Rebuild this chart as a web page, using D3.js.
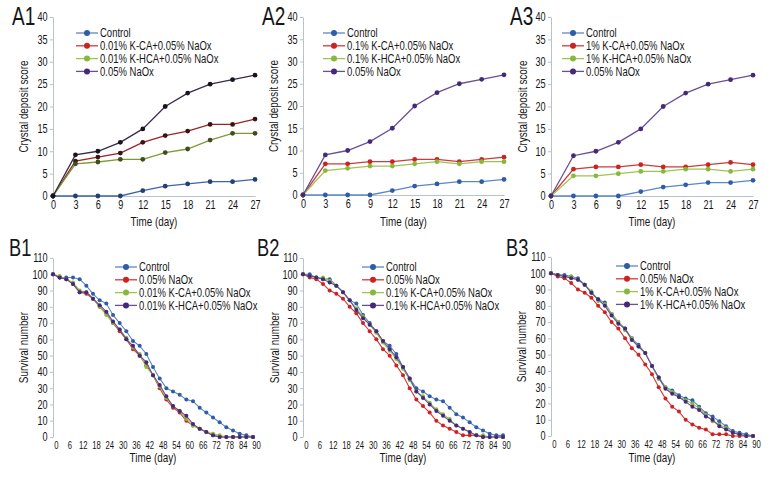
<!DOCTYPE html>
<html>
<head>
<meta charset="utf-8">
<script src="https://cdn.jsdelivr.net/npm/d3@7"></script>
<style>
  body { margin: 0; background: #fff; }
  svg text { font-family: "Liberation Sans", Arial, sans-serif; fill: #161616; }
  .axis path, .axis line { stroke: #b8c2cc; }
</style>
</head>
<body>
<svg id="chart" width="780" height="480"></svg>
<script>
// ---- data ----
const daysA = [0, 3, 6, 9, 12, 15, 18, 21, 24, 27]
const daysB = [0, 3, 6, 9, 12, 15, 18, 21, 24, 27, 30, 33, 36, 39, 42, 45,
  48, 51, 54, 57, 60, 63, 66, 69, 72, 75, 78, 81, 84, 87, 90]
const ticksA = [0, 3, 6, 9, 12, 15, 18, 21, 24, 27]
const ticksB = [0, 6, 12, 18, 24, 30, 36, 42, 48, 54, 60, 66, 72, 78, 84, 90]
const yTicksA = [0, 5, 10, 15, 20, 25, 30, 35, 40]
const yTicksB = [0, 10, 20, 30, 40, 50, 60, 70, 80, 90, 100, 110]

// crystal deposit score
const a1Control = [0, 0, 0, 0, 1.2, 2.2, 2.7, 3.2, 3.2, 3.7]
const a1KCA = [0, 7.8, 8.7, 9.6, 12, 13.5, 14.5, 16, 16, 17.2]
const a1KHCA = [0, 7.2, 7.6, 8.2, 8.2, 9.7, 10.5, 12.5, 14, 14]
const a1NaOx = [0, 9.2, 10, 12, 15, 20, 23, 25, 26, 27]

const a2Control = [0, 0, 0, 0, 1, 2, 2.5, 3, 3, 3.5]
const a2KCA = [0, 7, 7, 7.5, 7.5, 8, 8, 7.5, 8, 8.5]
const a2KHCA = [0, 5.5, 6, 6.5, 6.5, 7, 7.5, 7, 7.5, 7.5]
const a2NaOx = [0, 9, 10, 12, 15, 20, 23, 25, 26, 27]

const a3Control = [0, 0, 0, 0, 1, 2, 2.5, 3, 3, 3.5]
const a3KCA = [0, 6, 6.5, 6.5, 7, 6.5, 6.5, 7, 7.5, 7]
const a3KHCA = [0, 4.5, 4.5, 5, 5.5, 5.5, 6, 6, 5.5, 6]
const a3NaOx = [0, 9, 10, 12, 15, 20, 23, 25, 26, 27]

// survival number
const b1Control = [100, 98, 98, 98, 97, 93, 88, 84, 82, 75, 70, 65, 59, 56, 51, 43, 36, 30, 28, 26, 23, 22, 18, 15, 12, 9, 6, 4, 2, 1, 0]
const b1NaOx = [100, 98, 97, 94, 89, 88, 85, 80, 76, 70, 65, 60, 54, 50, 44, 38, 30, 23, 18, 15, 10, 7, 5, 3, 1, 0, 0, 0, 0, 0, 0]
const b1KCA = [100, 99, 97, 95, 90, 89, 85, 80, 75, 70, 66, 61, 55, 51, 43, 38, 31, 24, 19, 16, 11, 7, 5, 3, 2, 1, 0, 0, 0, 0, 0]
const b1KHCA = [100, 98, 97, 94, 89, 89, 85, 81, 77, 71, 66, 60, 56, 50, 46, 38, 32, 25, 19, 16, 13, 8, 5, 3, 1, 0, 0, 0, 0, 0, 0]

const b2Control = [100, 100, 98, 97, 97, 93, 89, 84, 82, 75, 70, 65, 59, 56, 51, 43, 36, 30, 28, 25, 23, 22, 18, 14, 12, 9, 6, 4, 2, 1, 1]
const b2NaOx = [100, 98, 97, 94, 90, 88, 85, 80, 76, 70, 65, 60, 54, 50, 44, 38, 30, 23, 19, 15, 10, 7, 5, 3, 1, 1, 1, 0, 0, 0, 0]
const b2KCA = [100, 99, 98, 98, 96, 93, 89, 84, 79, 74, 69, 64, 58, 53, 48, 42, 35, 28, 25, 21, 17, 14, 11, 7, 5, 3, 1, 1, 0, 0, 0]
const b2KHCA = [100, 99, 98, 97, 95, 93, 89, 84, 78, 73, 69, 65, 59, 54, 49, 43, 36, 28, 24, 20, 16, 13, 10, 7, 5, 3, 1, 0, 0, 0, 0]

const b3Control = [100, 99, 99, 98, 97, 93, 88, 84, 82, 75, 70, 66, 60, 56, 51, 43, 36, 30, 28, 25, 23, 22, 18, 14, 12, 9, 6, 3, 2, 1, 0]
const b3NaOx = [100, 98, 97, 94, 90, 88, 85, 80, 76, 70, 66, 60, 54, 50, 44, 38, 30, 23, 18, 15, 10, 7, 5, 4, 1, 1, 1, 0, 0, 0, 0]
const b3KCA = [100, 99, 98, 98, 96, 93, 89, 83, 81, 75, 70, 65, 60, 55, 51, 43, 35, 30, 27, 24, 22, 20, 17, 13, 9, 7, 5, 2, 1, 0, 0]
const b3KHCA = [100, 99, 98, 97, 96, 93, 88, 84, 80, 74, 69, 66, 59, 55, 51, 43, 36, 29, 26, 24, 21, 18, 16, 12, 10, 6, 4, 2, 1, 0, 0]

// ---- styles ----
const SX = 0.76 // horizontal squeeze, the original uses a condensed face
const col = {
  control: { line: '#5b87c8', dot: '#2f5ca8' },
  cka: { line: '#cf3a3a', dot: '#cc2222' },
  khca: { line: '#9cc452', dot: '#86b83a' },
  naox: { line: '#6a4f96', dot: '#45287a' }
}
// A1 curves are printed darker
const colDark = {
  control: { line: '#3d64a6', dot: '#24406f' },
  cka: { line: '#9a2424', dot: '#3a1414' },
  khca: { line: '#7c9b32', dot: '#3d4e1c' },
  naox: { line: '#3a2c48', dot: '#1a1420' }
}

const panels = [
  { tag: 'A1', x0: 53, x1: 255, yTop: 17, yBot: 196, kind: 'A', dark: true,
    series: [
      { key: 'control', name: 'Control', v: a1Control },
      { key: 'cka', name: '0.01% K-CA+0.05% NaOx', v: a1KCA },
      { key: 'khca', name: '0.01% K-HCA+0.05% NaOx', v: a1KHCA },
      { key: 'naox', name: '0.05% NaOx', v: a1NaOx }
    ], legX: 76, tagX: 12, titleX: 28 },
  { tag: 'A2', x0: 303, x1: 504, yTop: 17, yBot: 195, kind: 'A',
    series: [
      { key: 'control', name: 'Control', v: a2Control },
      { key: 'cka', name: '0.1% K-CA+0.05% NaOx', v: a2KCA },
      { key: 'khca', name: '0.1% K-HCA+0.05% NaOx', v: a2KHCA },
      { key: 'naox', name: '0.05% NaOx', v: a2NaOx }
    ], legX: 323, tagX: 262, titleX: 278 },
  { tag: 'A3', x0: 551, x1: 753, yTop: 17, yBot: 196, kind: 'A',
    series: [
      { key: 'control', name: 'Control', v: a3Control },
      { key: 'cka', name: '1% K-CA+0.05% NaOx', v: a3KCA },
      { key: 'khca', name: '1% K-HCA+0.05% NaOx', v: a3KHCA },
      { key: 'naox', name: '0.05% NaOx', v: a3NaOx }
    ], legX: 562, tagX: 510, titleX: 527 },
  { tag: 'B1', x0: 53, x1: 253, yTop: 258, yBot: 437, kind: 'B',
    series: [
      { key: 'control', name: 'Control', v: b1Control },
      { key: 'cka', name: '0.05% NaOx', v: b1NaOx },
      { key: 'khca', name: '0.01% K-CA+0.05% NaOx', v: b1KCA },
      { key: 'naox', name: '0.01% K-HCA+0.05% NaOx', v: b1KHCA }
    ], legX: 115, tagX: 9, titleX: 28 },
  { tag: 'B2', x0: 303, x1: 503, yTop: 258, yBot: 437, kind: 'B',
    series: [
      { key: 'control', name: 'Control', v: b2Control },
      { key: 'cka', name: '0.05% NaOx', v: b2NaOx },
      { key: 'khca', name: '0.1% K-CA+0.05% NaOx', v: b2KCA },
      { key: 'naox', name: '0.1% K-HCA+0.05% NaOx', v: b2KHCA }
    ], legX: 362, tagX: 257, titleX: 279 },
  { tag: 'B3', x0: 551, x1: 753, yTop: 257, yBot: 436, kind: 'B',
    series: [
      { key: 'control', name: 'Control', v: b3Control },
      { key: 'cka', name: '0.05% NaOx', v: b3NaOx },
      { key: 'khca', name: '1% K-CA+0.05% NaOx', v: b3KCA },
      { key: 'naox', name: '1% K-HCA+0.05% NaOx', v: b3KHCA }
    ], legX: 616, tagX: 506, titleX: 526 }
]

const svg = d3.select('#chart')

panels.forEach(p => drawPanel(p))

/**
 * Appends a squeezed text at (x, y).
 */
function label (g, x, y, str, size, anchor, rotate) {
  return g.append('text')
    .attr('transform', 'translate(' + x + ',' + y + ')' + (rotate ? ' rotate(-90)' : '') + ' scale(' + SX + ',1)')
    .attr('text-anchor', anchor || 'start')
    .attr('font-size', size)
    .text(str)
}

/**
 * Draws one small panel (axes, curves, legend, labels).
 *
 * @param {object} p The panel description
 */
function drawPanel (p) {
  const isA = p.kind === 'A'
  const days = isA ? daysA : daysB
  const x = d3.scaleLinear().domain(isA ? [0, 27] : [0, 90]).range([p.x0, p.x1])
  const y = d3.scaleLinear().domain(isA ? [0, 40] : [0, 110]).range([p.yBot, p.yTop])
  const g = svg.append('g').attr('class', 'panel-' + p.tag)

  // y axis
  g.append('g')
    .attr('class', 'axis')
    .attr('transform', 'translate(' + p.x0 + ',0)')
    .call(d3.axisLeft(y).tickValues(isA ? yTicksA : yTicksB).tickSize(3).tickSizeOuter(0).tickPadding(4))
    .call(a => a.selectAll('text').attr('font-size', 12).attr('font-family', null)
      .attr('transform', 'scale(' + SX + ',1)'))

  // x axis
  if (isA) {
    g.append('g')
      .attr('class', 'axis')
      .attr('transform', 'translate(0,' + p.yBot + ')')
      .call(d3.axisBottom(x).tickValues(ticksA).tickSize(0).tickSizeOuter(0).tickPadding(4))
      .call(a => a.selectAll('text').attr('font-size', 12).attr('font-family', null)
        .attr('transform', 'scale(' + SX + ',1)'))
  } else {
    const ax = g.append('g')
      .attr('class', 'axis')
      .attr('transform', 'translate(3,' + (p.yBot + 4) + ')')
      .call(d3.axisBottom(x).tickValues(ticksB).tickSize(0).tickPadding(0))
    ax.select('.domain').remove()
    ax.selectAll('text').attr('font-size', 11).attr('font-family', null)
      .attr('transform', 'scale(0.7,1)')
  }

  // curves
  const pal = p.dark ? colDark : col
  const line = d3.line().x((d, i) => x(days[i])).y(d => y(d))
  p.series.forEach(s => {
    g.append('path')
      .datum(s.v)
      .attr('fill', 'none')
      .attr('stroke', pal[s.key].line)
      .attr('stroke-width', isA ? 1.3 : 1.1)
      .attr('d', line)
    g.selectAll(null)
      .data(s.v)
      .enter()
      .append('circle')
      .attr('cx', (d, i) => x(days[i]))
      .attr('cy', d => y(d))
      .attr('r', isA ? 2.4 : 2)
      .attr('fill', pal[s.key].dot)
  })

  // legend
  const legY = isA ? 33 : p.yTop + 9
  p.series.forEach((s, i) => {
    const ly = legY + i * 12.8
    g.append('line')
      .attr('x1', p.legX).attr('x2', p.legX + 22)
      .attr('y1', ly).attr('y2', ly)
      .attr('stroke', col[s.key].line)
      .attr('stroke-width', 1.3)
    g.append('circle')
      .attr('cx', p.legX + 11).attr('cy', ly).attr('r', 3)
      .attr('fill', col[s.key].dot)
    label(g, p.legX + 24, ly + 4.3, s.name, 12.5)
  })

  // axis titles
  const midY = (p.yTop + p.yBot) / 2
  label(g, p.titleX, midY, isA ? 'Crystal deposit score' : 'Survival number', 13, 'middle', true)
  label(g, (p.x0 + p.x1) / 2, isA ? 226 : 462, 'Time (day)', 13, 'middle')

  // panel tag
  label(g, p.tagX, isA ? 25 : 256, p.tag, isA ? 25 : 24)
}
</script>
</body>
</html>
